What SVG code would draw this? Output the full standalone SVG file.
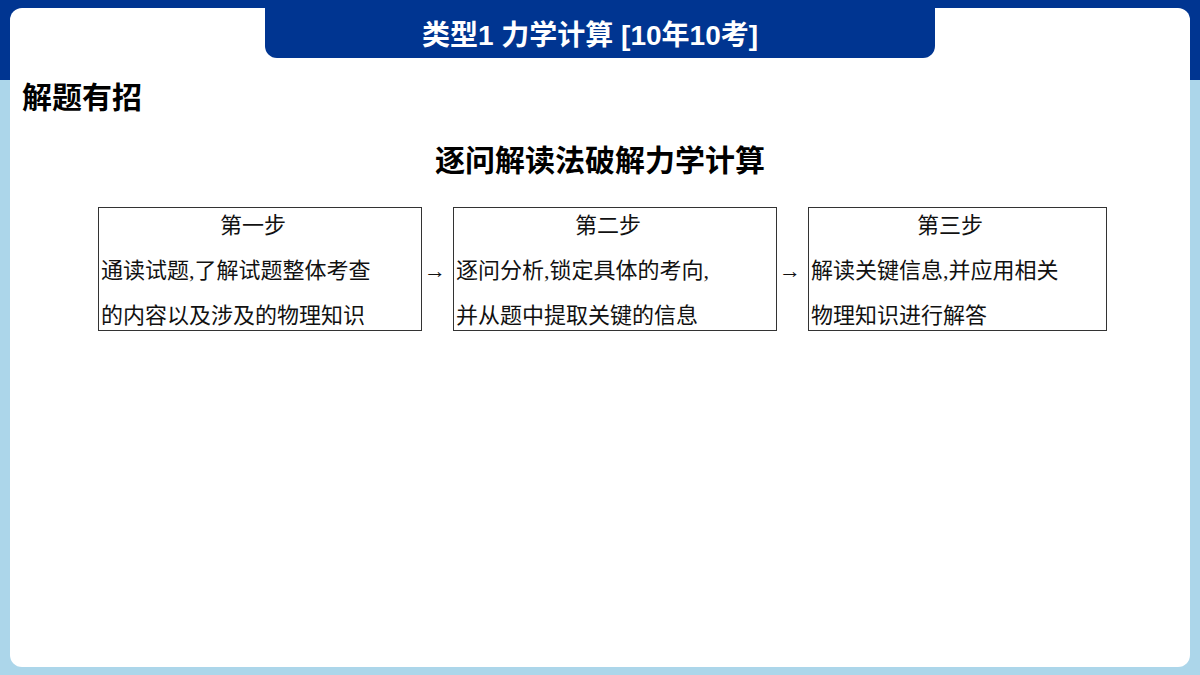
<svg xmlns="http://www.w3.org/2000/svg" width="1200" height="675" viewBox="0 0 1200 675">
<style>
.t{font-family:"Liberation Serif","Noto Sans CJK SC",serif;font-size:22px;fill:#111}
.b{fill:none;stroke:#333;stroke-width:1}
.h{font-family:"Liberation Sans","Noto Sans CJK SC",sans-serif;font-weight:bold;fill:#000}
</style>
<rect width="1200" height="675" fill="#acd6ea"/>
<rect width="1200" height="80" fill="#003591"/>
<rect x="10" y="8" width="1180" height="659" rx="12" fill="#fff"/>
<path d="M265 0H935V46A12 12 0 0 1 923 58H277A12 12 0 0 1 265 46Z" fill="#003591"/>
<text x="590" y="45" text-anchor="middle" class="h" font-size="28" fill="#fff" style="fill:#fff">类型1  力学计算 [10年10考]</text>
<text x="22" y="108" class="h" font-size="30">解题有招</text>
<text x="600" y="171" text-anchor="middle" class="h" font-size="30">逐问解读法破解力学计算</text>
<g id="step1"><rect class="b" x="98.5" y="207.5" width="323" height="123"/>
<text class="t" x="253" y="233" text-anchor="middle">第一步</text>
<text class="t" x="101" y="278">通读试题,了解试题整体考查</text>
<text class="t" x="101" y="323">的内容以及涉及的物理知识</text></g>
<g id="step2"><rect class="b" x="453.5" y="207.5" width="323" height="123"/>
<text class="t" x="608" y="233" text-anchor="middle">第二步</text>
<text class="t" x="456" y="278">逐问分析,锁定具体的考向,</text>
<text class="t" x="456" y="323">并从题中提取关键的信息</text></g>
<g id="step3"><rect class="b" x="808.5" y="207.5" width="298" height="123"/>
<text class="t" x="950" y="233" text-anchor="middle">第三步</text>
<text class="t" x="811" y="278">解读关键信息,并应用相关</text>
<text class="t" x="811" y="323">物理知识进行解答</text></g>
<g id="connectors">
<text class="t" x="424" y="278">→</text>
<text class="t" x="779" y="278">→</text>
</g>
</svg>
